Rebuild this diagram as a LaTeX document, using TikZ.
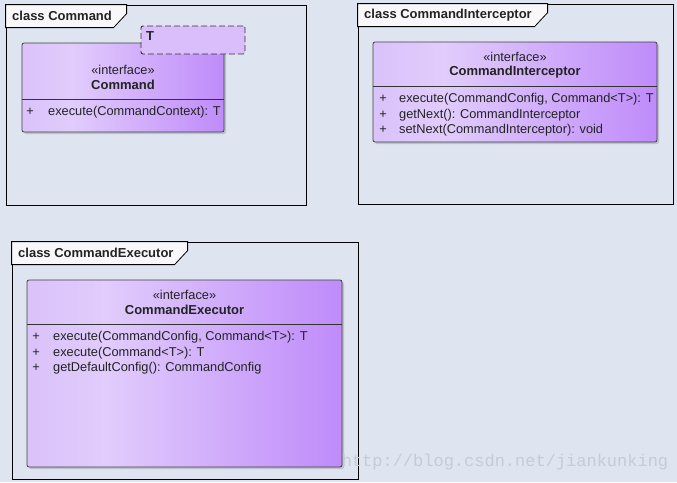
\documentclass[tikz,border=0pt]{standalone}
\usepackage{fontspec}
\setmainfont{Liberation Sans}
\newfontfamily\wmfont{Liberation Mono}
\usetikzlibrary{shadows}
\definecolor{bgblue}{RGB}{222,228,240}
\definecolor{tabfill}{RGB}{248,247,250}
\definecolor{lilacedge}{RGB}{218,194,250}
\definecolor{lilaclight}{RGB}{225,204,252}
\definecolor{lilacdark}{RGB}{191,139,250}
\definecolor{tparam}{RGB}{218,190,251}
\definecolor{inktext}{RGB}{35,35,35}
\definecolor{wmgray}{RGB}{198,203,214}
\pgfdeclarehorizontalshading{lilacshade}{100bp}{color(0bp)=(lilacedge); color(25bp)=(lilacedge);
  color(37.5bp)=(lilaclight); color(75bp)=(lilacdark); color(100bp)=(lilacdark)}
\begin{document}
\begin{tikzpicture}[x=1pt, y=-1pt, every node/.style={inner sep=0pt, text=inktext,
                  font=\fontsize{12.8}{14}\selectfont},
    frame/.style={draw, fill=bgblue, line width=0.8pt, shape=rectangle},
    tab/.style={draw, fill=tabfill, line width=0.8pt},
    boldtext/.style={font=\fontsize{13}{15}\selectfont\bfseries},
    classbox/.style={draw=black!75, line width=0.8pt, rounded corners=2pt, shading=lilacshade,
                  drop shadow={shadow xshift=2pt, shadow yshift=-2pt, fill=black, opacity=0.15}},
    tparambox/.style={draw=black!80, dash pattern=on 6pt off 3pt, line width=0.9pt,
                  rounded corners=2pt, fill=tparam},
    divider/.style={draw=black!80, line width=0.8pt}]
  \useasboundingbox (0,0) rectangle (677,482);
  \fill[bgblue] (0,0) rectangle (677,482);

  \node[frame, minimum width=300, minimum height=200] (cmdframe) at (156,105) {};
  \draw[tab] (cmdframe.north west) -- ++(121,0) -- ++(0,9) -- ++(-13,14) -- ++(-108,0) -- cycle;
  \node[anchor=west, boldtext] (cmdtab) at (12,16) {class Command};
  \node[classbox, minimum width=202, minimum height=89] (cmd) at (123,87.5) {};
  \draw[divider] (cmd.west |- 0,99) -- (cmd.east |- 0,99);
  \node (cmdst) at (123,70) {«interface»};
  \node[boldtext] (cmdname) at (123,85) {Command};
  \node (cmdp1) at (30,112) {+};
  \node[anchor=west] (cmdm1) at (48,112) {execute(CommandContext): T};
  \node[tparambox, minimum width=104, minimum height=28] (cmdT) at (193,40) {};
  \node[boldtext] (cmdTlbl) at (150,36) {T};

  \node[frame, minimum width=315, minimum height=200] (icpframe) at (515.5,104) {};
  \draw[tab] (icpframe.north west) -- ++(190,0) -- ++(0,9) -- ++(-13,14) -- ++(-177,0) -- cycle;
  \node[anchor=west, boldtext] (icptab) at (364,15) {class CommandInterceptor};
  \node[classbox, minimum width=284, minimum height=100] (icp) at (515,92) {};
  \draw[divider] (icp.west |- 0,86) -- (icp.east |- 0,86);
  \node (icpst) at (515,57) {«interface»};
  \node[boldtext] (icpname) at (515,72) {CommandInterceptor};
  \node (icpp1) at (383,99) {+};
  \node[anchor=west] (icpm1) at (399,99) {execute(CommandConfig, Command<T>): T};
  \node (icpp2) at (383,115) {+};
  \node[anchor=west] (icpm2) at (399,115) {getNext(): CommandInterceptor};
  \node (icpp3) at (383,130) {+};
  \node[anchor=west] (icpm3) at (399,130) {setNext(CommandInterceptor): void};

  \node[frame, minimum width=346, minimum height=237] (exeframe) at (185,360.5) {};
  \draw[tab] (exeframe.north west) -- ++(176,0) -- ++(0,9) -- ++(-13,14) -- ++(-163,0) -- cycle;
  \node[anchor=west, boldtext] (exetab) at (18,253) {class CommandExecutor};
  \node[classbox, minimum width=315, minimum height=187] (exe) at (184.5,373.5) {};
  \draw[divider] (exe.west |- 0,324) -- (exe.east |- 0,324);
  \node (exest) at (184.5,295) {«interface»};
  \node[boldtext] (exename) at (184.5,310) {CommandExecutor};
  \node (exep1) at (36,337) {+};
  \node[anchor=west] (exem1) at (53,337) {execute(CommandConfig, Command<T>): T};
  \node (exep2) at (36,353) {+};
  \node[anchor=west] (exem2) at (53,353) {execute(Command<T>): T};
  \node (exep3) at (36,368) {+};
  \node[anchor=west] (exem3) at (53,368) {getDefaultConfig(): CommandConfig};

  \node[text=wmgray, font=\wmfont\fontsize{17}{17}\selectfont] (wmark) at (505,462) {http://blog.csdn.net/jiankunking};
\end{tikzpicture}
\end{document}
